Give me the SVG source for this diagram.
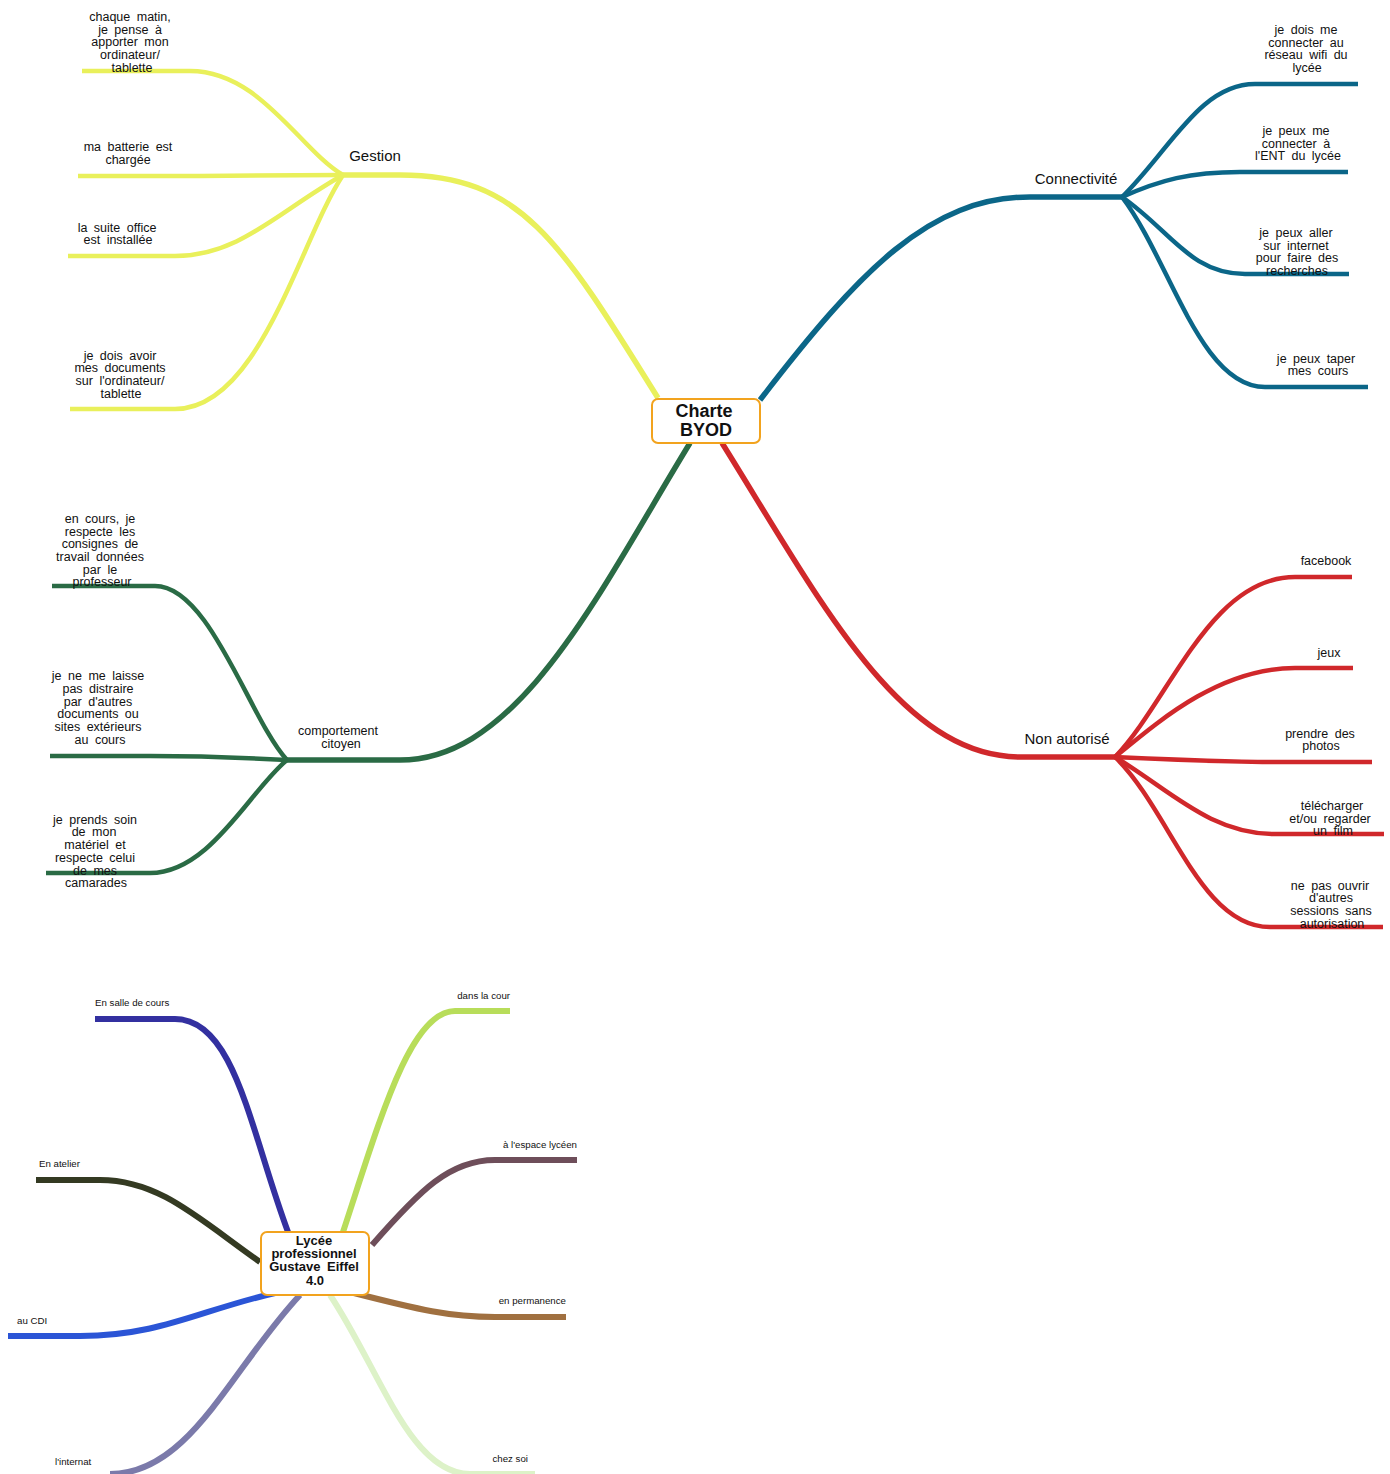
<svg xmlns="http://www.w3.org/2000/svg" width="1390" height="1474" viewBox="0 0 1390 1474">
<style>
text{font-family:"Liberation Sans",Arial,sans-serif;fill:#111;text-anchor:middle}
.c{font-size:12.5px;word-spacing:3px}
.m{font-size:15px}
.s{font-size:9.7px;text-anchor:start}
.e{font-size:9.7px;text-anchor:end}
.root{font-size:18px;font-weight:bold}
.root2{font-size:13px;font-weight:bold;word-spacing:3px}
path{fill:none;stroke-linecap:butt}
.y{stroke:#e9f05b}.t{stroke:#0b6688}.g{stroke:#2a6b45}.r{stroke:#d0282b}
.mb{stroke-width:5.5}.cb{stroke-width:4.5}.sb{stroke-width:6}
.box{fill:#fff;stroke:#f2a31e;stroke-width:2}
</style>
<rect width="1390" height="1474" fill="#fff"/>
<g id="connectors">
<path class="y mb" d="M658 398 C560 240 520 175 400 175 L343 175"/>
<path class="t mb" d="M760 400 C860 270 930 197 1030 197 L1122 197"/>
<path class="g mb" d="M690 443 C600 590 520 760 400 760 L287 760"/>
<path class="r mb" d="M722 443 C820 600 900 757 1020 757 L1115 757"/>
<path class="y cb" d="M343 175 C300 150 260 71 190 71 L82 71"/>
<path class="y cb" d="M343 175 C300 175 250 176 200 176 L78 176"/>
<path class="y cb" d="M343 175 C280 210 240 256 175 256 L68 256"/>
<path class="y cb" d="M343 175 C300 240 260 409 175 409 L70 409"/>
<path class="t cb" d="M1122 197 C1170 150 1200 84 1255 84 L1358 84"/>
<path class="t cb" d="M1122 197 C1160 180 1190 172 1240 172 L1348 172"/>
<path class="t cb" d="M1122 197 C1170 230 1190 274 1245 274 L1349 274"/>
<path class="t cb" d="M1122 197 C1170 260 1200 387 1265 387 L1368 387"/>
<path class="g cb" d="M287 760 C250 720 210 586 155 586 L52 586"/>
<path class="g cb" d="M287 760 C250 758 200 756 150 756 L50 756"/>
<path class="g cb" d="M287 760 C250 790 210 873 150 873 L46 873"/>
<path class="r cb" d="M1115 757 C1170 700 1210 577 1295 577 L1352 577"/>
<path class="r cb" d="M1115 757 C1160 720 1220 668 1295 668 L1353 668"/>
<path class="r cb" d="M1115 757 C1180 760 1220 762 1280 762 L1372 762"/>
<path class="r cb" d="M1115 757 C1170 790 1210 834 1275 834 L1384 834"/>
<path class="r cb" d="M1115 757 C1170 810 1200 927 1270 927 L1383 927"/>
<path class="sb" stroke="#3330a0" d="M288 1232 C250 1130 235 1019 175 1019 L95 1019"/>
<path class="sb" stroke="#343a22" d="M260 1262 C200 1220 160 1180 100 1180 L36 1180"/>
<path class="sb" stroke="#2b55d6" d="M275 1293 C200 1310 160 1336 80 1336 L8 1336"/>
<path class="sb" stroke="#7b7aaa" d="M300 1295 C230 1370 190 1474 110 1474"/>
<path class="sb" stroke="#b8dd5a" d="M343 1232 C380 1120 410 1011 455 1011 L510 1011"/>
<path class="sb" stroke="#6e4e5a" d="M372 1245 C420 1190 450 1160 495 1160 L577 1160"/>
<path class="sb" stroke="#a07040" d="M350 1292 C420 1310 450 1317 495 1317 L566 1317"/>
<path class="sb" stroke="#ddf2c8" d="M330 1295 C380 1370 410 1474 470 1474 L535 1474"/>
</g>
<g id="root">
<rect class="box" x="652" y="399" width="108" height="44" rx="6"/>
<text class="root" x="704" y="417">Charte</text>
<text class="root" x="706" y="436">BYOD</text>
</g>
<g id="gestion"><text class="m" x="375" y="161">Gestion</text></g>
<g id="connectivite"><text class="m" x="1076" y="184">Connectivité</text></g>
<g id="comportement"><text class="c" x="338" y="735">comportement</text><text class="c" x="341" y="748">citoyen</text></g>
<g id="nonautorise"><text class="m" x="1067" y="744">Non autorisé</text></g>
<g id="g1"><text class="c" x="130" y="21">chaque matin,</text><text class="c" x="130" y="34">je pense à</text><text class="c" x="130" y="46">apporter mon</text><text class="c" x="130" y="59">ordinateur/</text><text class="c" x="132" y="72">tablette</text></g>
<g id="g2"><text class="c" x="128" y="151">ma batterie est</text><text class="c" x="128" y="164">chargée</text></g>
<g id="g3"><text class="c" x="117" y="232">la suite office</text><text class="c" x="118" y="244">est installée</text></g>
<g id="g4"><text class="c" x="120" y="360">je dois avoir</text><text class="c" x="120" y="372">mes documents</text><text class="c" x="120" y="385">sur l'ordinateur/</text><text class="c" x="121" y="398">tablette</text></g>
<g id="t1"><text class="c" x="1306" y="34">je dois me</text><text class="c" x="1306" y="47">connecter au</text><text class="c" x="1306" y="59">réseau wifi du</text><text class="c" x="1307" y="72">lycée</text></g>
<g id="t2"><text class="c" x="1296" y="135">je peux me</text><text class="c" x="1296" y="148">connecter à</text><text class="c" x="1298" y="160">l'ENT du lycée</text></g>
<g id="t3"><text class="c" x="1296" y="237">je peux aller</text><text class="c" x="1296" y="250">sur internet</text><text class="c" x="1297" y="262">pour faire des</text><text class="c" x="1297" y="275">recherches</text></g>
<g id="t4"><text class="c" x="1316" y="363">je peux taper</text><text class="c" x="1318" y="375">mes cours</text></g>
<g id="c1"><text class="c" x="100" y="523">en cours, je</text><text class="c" x="100" y="536">respecte les</text><text class="c" x="100" y="548">consignes de</text><text class="c" x="100" y="561">travail données</text><text class="c" x="100" y="574">par le</text><text class="c" x="102" y="586">professeur</text></g>
<g id="c2"><text class="c" x="98" y="680">je ne me laisse</text><text class="c" x="98" y="693">pas distraire</text><text class="c" x="98" y="706">par d'autres</text><text class="c" x="98" y="718">documents ou</text><text class="c" x="98" y="731">sites extérieurs</text><text class="c" x="100" y="744">au cours</text></g>
<g id="c3"><text class="c" x="95" y="824">je prends soin</text><text class="c" x="94" y="836">de mon</text><text class="c" x="95" y="849">matériel et</text><text class="c" x="95" y="862">respecte celui</text><text class="c" x="95" y="875">de mes</text><text class="c" x="96" y="887">camarades</text></g>
<g id="n1"><text class="c" x="1326" y="565">facebook</text></g>
<g id="n2"><text class="c" x="1329" y="657">jeux</text></g>
<g id="n3"><text class="c" x="1320" y="738">prendre des</text><text class="c" x="1321" y="750">photos</text></g>
<g id="n4"><text class="c" x="1332" y="810">télécharger</text><text class="c" x="1330" y="823">et/ou regarder</text><text class="c" x="1333" y="835">un film</text></g>
<g id="n5"><text class="c" x="1330" y="890">ne pas ouvrir</text><text class="c" x="1331" y="902">d'autres</text><text class="c" x="1331" y="915">sessions sans</text><text class="c" x="1332" y="928">autorisation</text></g>
<g id="root2">
<rect class="box" x="261" y="1232" width="108" height="63" rx="6"/>
<text class="root2" x="314" y="1245">Lycée</text>
<text class="root2" x="314" y="1258">professionnel</text>
<text class="root2" x="314" y="1271">Gustave Eiffel</text>
<text class="root2" x="315" y="1285">4.0</text>
</g>
<g id="l1"><text class="s" x="95" y="1006">En salle de cours</text></g>
<g id="l2"><text class="s" x="39" y="1167">En atelier</text></g>
<g id="l3"><text class="s" x="17" y="1324">au CDI</text></g>
<g id="l4"><text class="s" x="55" y="1465">l'internat</text></g>
<g id="l5"><text class="e" x="510" y="999">dans la cour</text></g>
<g id="l6"><text class="e" x="577" y="1148">à l'espace lycéen</text></g>
<g id="l7"><text class="e" x="566" y="1304">en permanence</text></g>
<g id="l8"><text class="e" x="528" y="1462">chez soi</text></g>
</svg>
